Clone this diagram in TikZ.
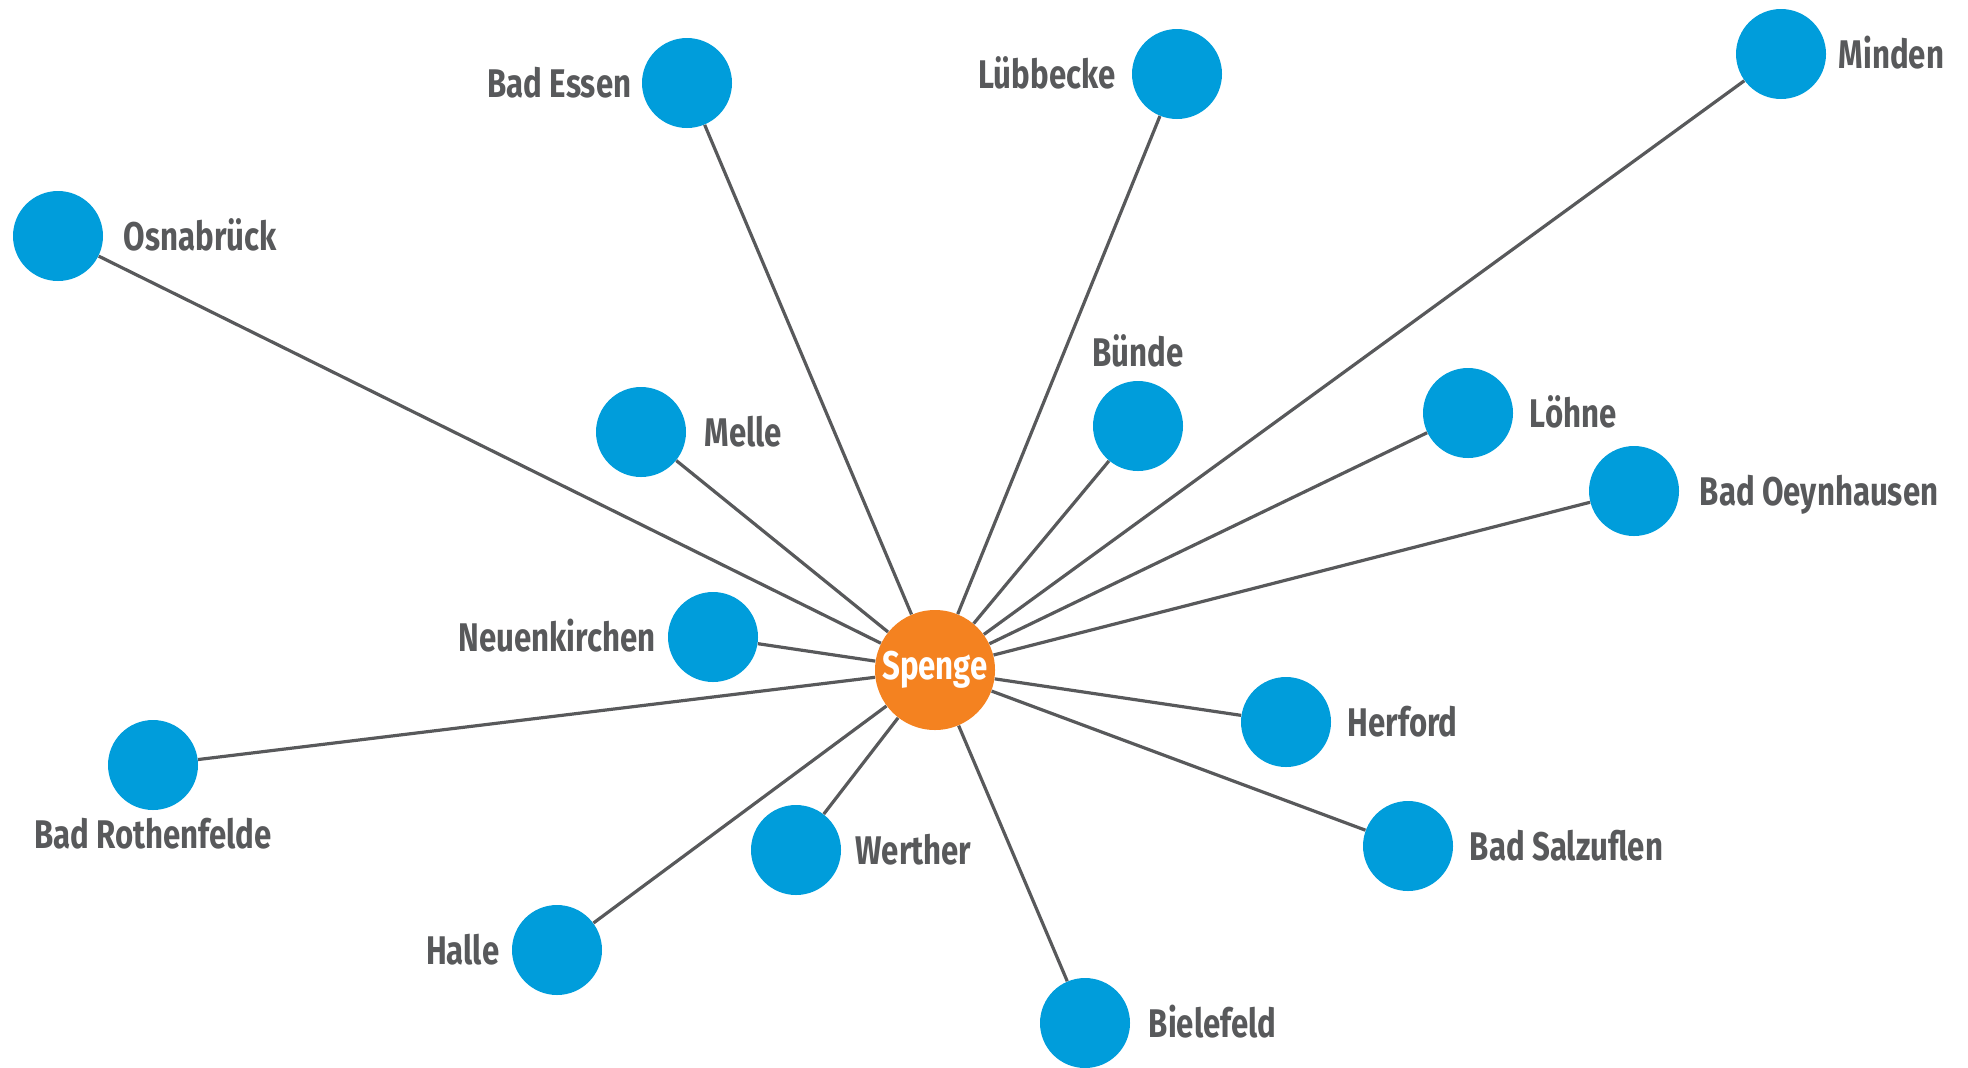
\documentclass[tikz,border=0pt]{standalone}
\usepackage{fontspec}
\setmainfont{Fira Sans}[FakeStretch=0.78]
\usetikzlibrary{positioning}
\definecolor{cityblue}{RGB}{0,157,219}
\definecolor{hub}{RGB}{244,130,32}
\definecolor{ink}{RGB}{88,89,91}
\tikzset{
  city/.style={circle, fill=cityblue, minimum size=45pt, inner sep=0pt},
  lbl/.style={text=ink, font=\fontsize{20}{24}\selectfont\bfseries, inner sep=0pt, text height=0.7em, text depth=0pt, yshift=-3.5pt},
  link/.style={draw=ink, line width=1.6pt}
}
\begin{document}
\begin{tikzpicture}[x=0.5pt, y=-0.5pt]
            \useasboundingbox (0,0) rectangle (1968,1067);
            % centre
            \node[circle, fill=hub, minimum size=60pt, inner sep=0pt, text=white, font=\fontsize{20}{24}\selectfont\bfseries] (spenge) at (935,670) {Spenge};

            % towns north
            \node[city] (essen) at (687,83) {};
            \node[lbl, left=5pt of essen] (essenL) {Bad Essen};
            \node[city] (luebbecke) at (1177,74) {};
            \node[lbl, left=8pt of luebbecke] (luebbeckeL) {Lübbecke};
            \node[city] (minden) at (1781,54) {};
            \node[lbl, right=6pt of minden] (mindenL) {Minden};
            \node[city] (osna) at (58,236) {};
            \node[lbl, right=10pt of osna] (osnaL) {Osnabrück};
            \node[city] (melle) at (641,432) {};
            \node[lbl, right=9pt of melle] (melleL) {Melle};
            \node[city] (buende) at (1138,426) {};
            \node[lbl, above=10.5pt of buende] (buendeL) {Bünde};
            \node[city] (loehne) at (1468,413) {};
            \node[lbl, right=8pt of loehne] (loehneL) {Löhne};
            \node[city] (oeyn) at (1634,491) {};
            \node[lbl, right=10pt of oeyn] (oeynL) {Bad Oeynhausen};

            % towns south
            \node[city] (neuen) at (713,637) {};
            \node[lbl, left=6pt of neuen] (neuenL) {Neuenkirchen};
            \node[city] (rothen) at (153,765) {};
            \node[lbl, below=8.5pt of rothen] (rothenL) {Bad Rothenfelde};
            \node[city] (werther) at (796,850) {};
            \node[lbl, right=7pt of werther] (wertherL) {Werther};
            \node[city] (halle) at (557,950) {};
            \node[lbl, left=6pt of halle] (halleL) {Halle};
            \node[city] (herford) at (1286,722) {};
            \node[lbl, right=8pt of herford] (herfordL) {Herford};
            \node[city] (salz) at (1408,846) {};
            \node[lbl, right=8pt of salz] (salzL) {Bad Salzuflen};
            \node[city] (biele) at (1085,1023) {};
            \node[lbl, right=9pt of biele] (bieleL) {Bielefeld};

            % links
            \foreach \t in {essen,luebbecke,minden,osna,melle,buende,loehne,oeyn,neuen,rothen,werther,halle,herford,salz,biele}
              \draw[link] (spenge) -- (\t);
        \end{tikzpicture}
\end{document}
